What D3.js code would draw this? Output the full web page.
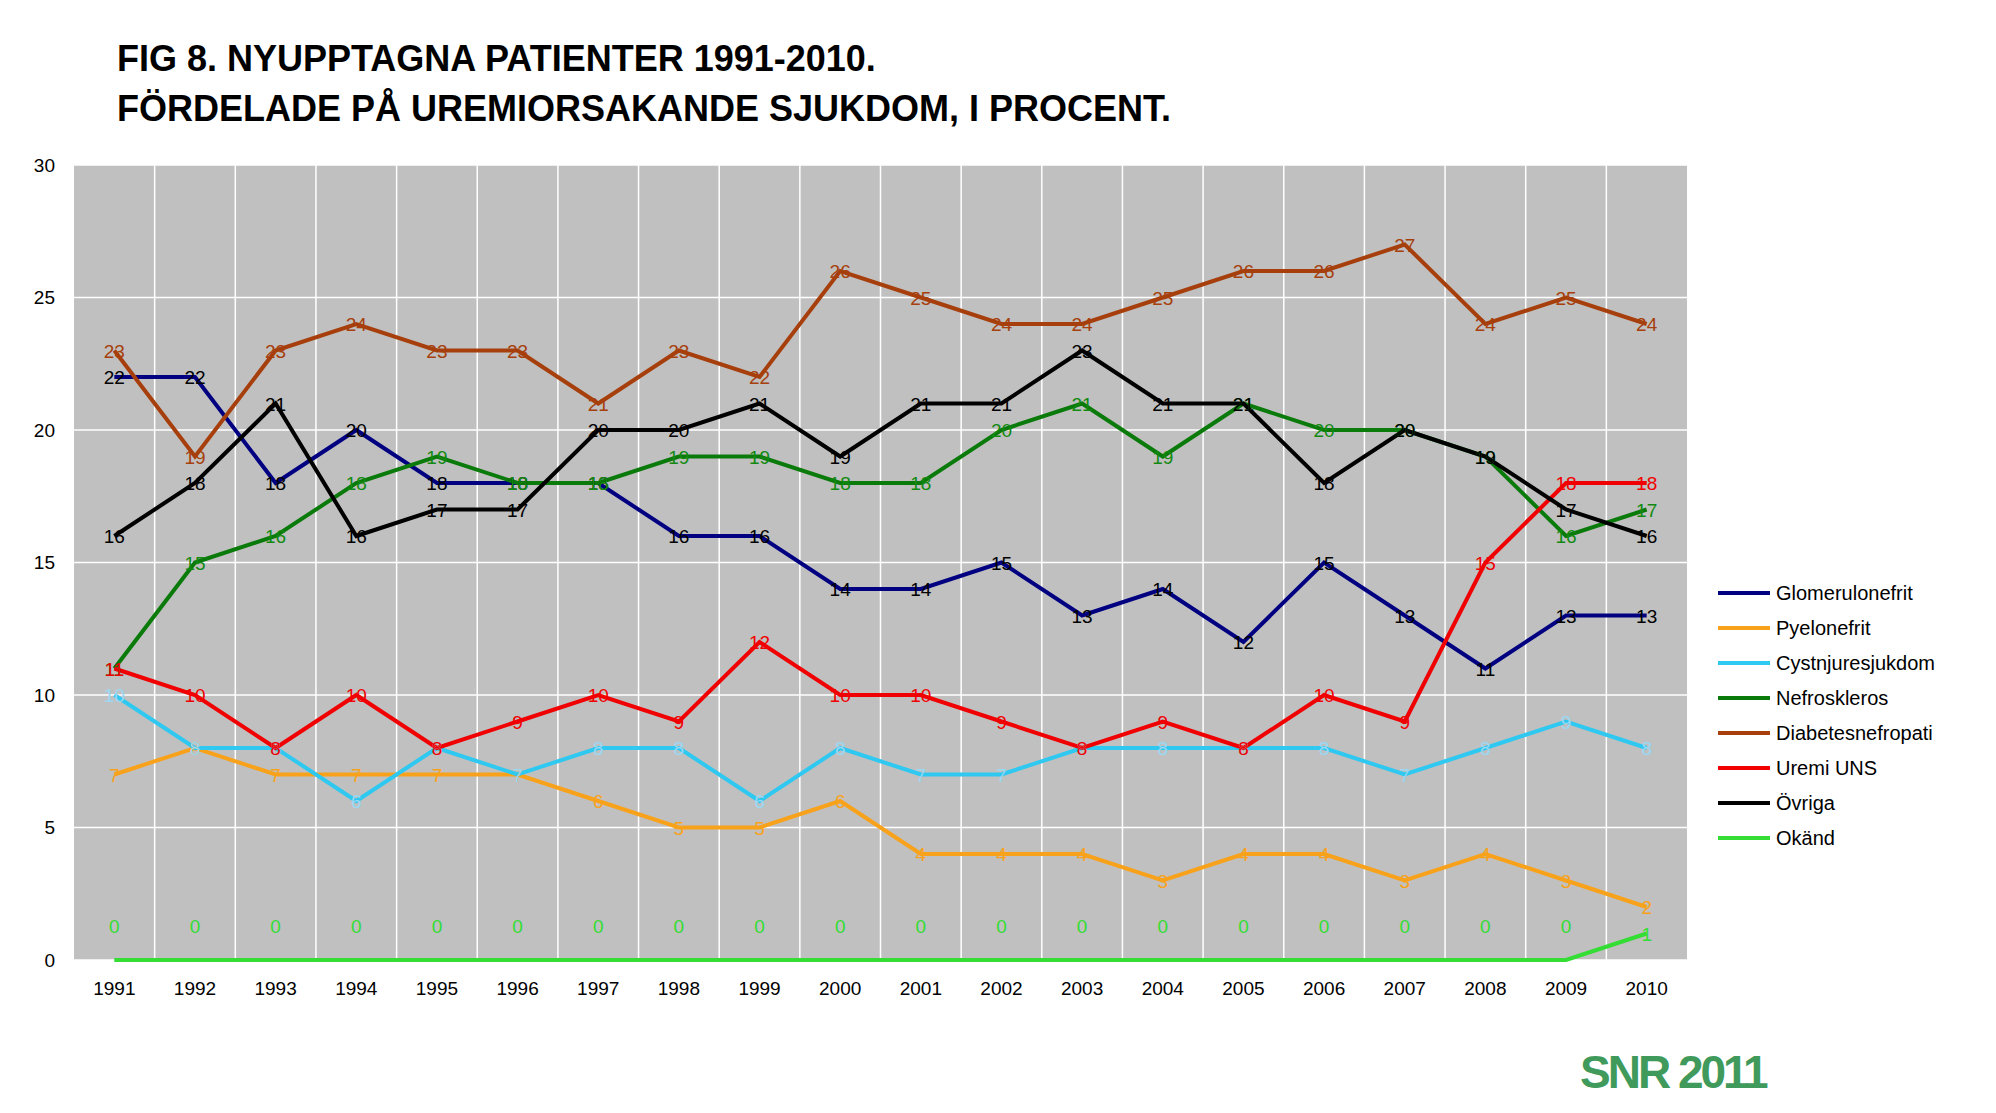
<!DOCTYPE html>
<html><head><meta charset="utf-8">
<script src="https://cdn.jsdelivr.net/npm/d3@7"></script>
<style>body{margin:0;background:#fff}text{font-family:"Liberation Sans",Arial,sans-serif}</style>
</head><body>
<svg id="chart" width="1996" height="1113"></svg>
<script>
'use strict';

const years = ["1991","1992","1993","1994","1995","1996","1997","1998","1999","2000",
  "2001","2002","2003","2004","2005","2006","2007","2008","2009","2010"];
const yTicks = [0, 5, 10, 15, 20, 25, 30];

const glomerulonefrit = [22,22,18,20,18,18,18,16,16,14,14,15,13,14,12,15,13,11,13,13];
const pyelonefrit = [7,8,7,7,7,7,6,5,5,6,4,4,4,3,4,4,3,4,3,2];
const cystnjuresjukdom = [10,8,8,6,8,7,8,8,6,8,7,7,8,8,8,8,7,8,9,8];
const nefroskleros = [11,15,16,18,19,18,18,19,19,18,18,20,21,19,21,20,20,19,16,17];
const diabetesnefropati = [23,19,23,24,23,23,21,23,22,26,25,24,24,25,26,26,27,24,25,24];
const uremiUNS = [11,10,8,10,8,9,10,9,12,10,10,9,8,9,8,10,9,15,18,18];
const ovriga = [16,18,21,16,17,17,20,20,21,19,21,21,23,21,21,18,20,19,17,16];
const okand = [0,0,0,0,0,0,0,0,0,0,0,0,0,0,0,0,0,0,0,1];

const series = [
  {name: "Glomerulonefrit", color: "#000080", values: glomerulonefrit, label: "#000"},
  {name: "Pyelonefrit", color: "#F8A21C", values: pyelonefrit},
  {name: "Cystnjuresjukdom", color: "#2EC8F0", values: cystnjuresjukdom, label: "#9ad8f4"},
  {name: "Nefroskleros", color: "#0A7A0A", values: nefroskleros, label: "#128a12"},
  {name: "Diabetesnefropati", color: "#A63F0C", values: diabetesnefropati},
  {name: "Uremi UNS", color: "#F00000", values: uremiUNS},
  {name: "Övriga", color: "#000000", values: ovriga},
  {name: "Okänd", color: "#33DD33", values: okand, lift: 1.3}
];

const svg = d3.select("#chart");
const plot = {left: 74, right: 1687, top: 165, bottom: 960};

// title
svg.append("text").attr("x", 117).attr("y", 71).attr("font-size", 36).attr("font-weight", "bold")
  .text("FIG 8. NYUPPTAGNA PATIENTER 1991-2010.");
svg.append("text").attr("x", 117).attr("y", 121).attr("font-size", 36).attr("font-weight", "bold")
  .text("FÖRDELADE PÅ UREMIORSAKANDE SJUKDOM, I PROCENT.");

const x = d3.scaleBand().domain(years).range([plot.left, plot.right]);
const y = d3.scaleLinear().domain([0, 30]).range([plot.bottom, plot.top]);
const cx = d => x(d) + x.bandwidth() / 2;

svg.append("rect").attr("x", plot.left).attr("y", plot.top)
  .attr("width", plot.right - plot.left).attr("height", plot.bottom - plot.top).attr("fill", "#C0C0C0");

// grid
svg.append("g").selectAll("line").data(yTicks).join("line")
  .attr("x1", plot.left).attr("x2", plot.right).attr("y1", d => y(d)).attr("y2", d => y(d))
  .attr("stroke", "#fff").attr("stroke-width", 1.5);
svg.append("g").selectAll("line").data(years.slice(1)).join("line")
  .attr("x1", d => x(d)).attr("x2", d => x(d)).attr("y1", plot.top).attr("y2", plot.bottom)
  .attr("stroke", "#fff").attr("stroke-width", 1.5);

// axes
const yAxis = svg.append("g").attr("transform", `translate(${plot.left - 16},0)`)
  .call(d3.axisLeft(y).tickValues(yTicks).tickSize(0));
yAxis.select(".domain").remove();
yAxis.selectAll("text").attr("font-size", 19).attr("fill", "#000").attr("font-family", "Liberation Sans, Arial");

const xAxis = svg.append("g").attr("transform", `translate(0,${plot.bottom + 18})`)
  .call(d3.axisBottom(x).tickSize(0));
xAxis.select(".domain").remove();
xAxis.selectAll("text").attr("font-size", 19).attr("fill", "#000").attr("font-family", "Liberation Sans, Arial");

// lines
const line = d3.line().x((d, i) => cx(years[i])).y(d => y(d));
series.forEach(s => {
  svg.append("path").datum(s.values).attr("d", line).attr("fill", "none")
    .attr("stroke", s.color).attr("stroke-width", 4).attr("stroke-linejoin", "miter");
});

// data labels
series.forEach(s => {
  svg.append("g").selectAll("text").data(s.values).join("text")
    .attr("x", (d, i) => cx(years[i]))
    .attr("y", (d, i) => y(d + (s.lift && d === 0 ? s.lift : 0)) + 7)
    .attr("text-anchor", "middle").attr("font-size", 19)
    .attr("fill", s.label || s.color)
    .text(d => d);
});

// legend
const lg = svg.append("g").attr("transform", "translate(1718,593)");
series.forEach((s, i) => {
  lg.append("line").attr("x1", 0).attr("x2", 52).attr("y1", i * 35).attr("y2", i * 35)
    .attr("stroke", s.color).attr("stroke-width", 4);
  lg.append("text").attr("x", 58).attr("y", i * 35 + 7).attr("font-size", 20).text(s.name);
});

// logo
svg.append("text").attr("x", 1580).attr("y", 1088).attr("font-size", 46).attr("font-weight", "bold")
  .attr("fill", "#3F9A5C").attr("font-family", "Liberation Sans Narrow, Arial Narrow, sans-serif")
  .attr("letter-spacing", -3).text("SNR 2011");
</script>
</body></html>
